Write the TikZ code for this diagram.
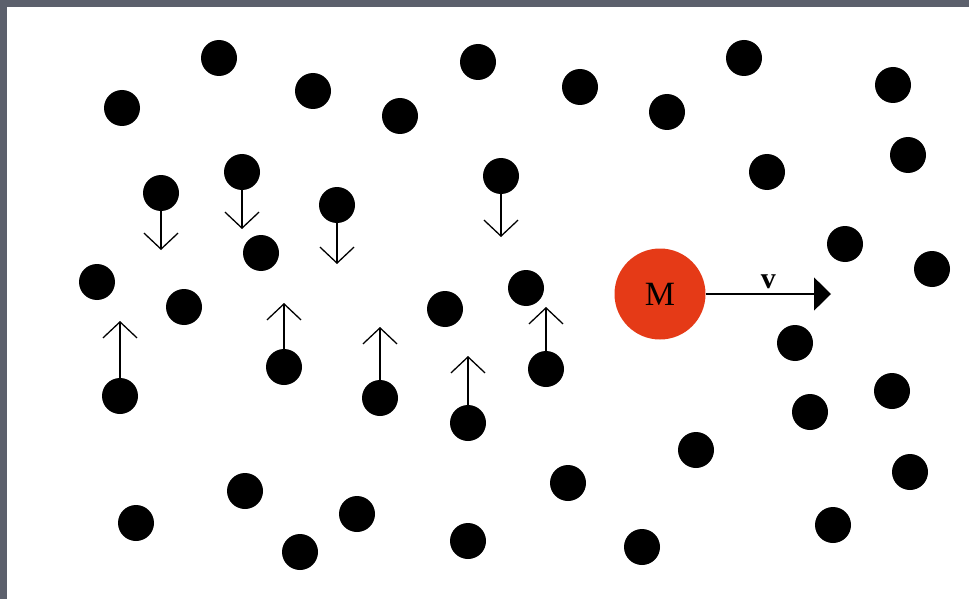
\documentclass[tikz,border=0pt]{standalone}
\usepackage{fontspec}
\setmainfont{Liberation Serif}
\usetikzlibrary{arrows.meta}
\definecolor{frame}{HTML}{5C606C}
\definecolor{mred}{HTML}{E53A17}
\begin{document}
\begin{tikzpicture}[x=1pt,y=-1pt,
  dot/.style={circle,fill=black,minimum size=36pt,inner sep=0pt},
  vel/.style={line width=1.7pt,-{Straight Barb[length=16pt,width=34pt,line width=1.3pt]}},
  mass/.style={circle,fill=mred,minimum size=91pt,inner sep=0pt,font=\fontsize{34}{34}\selectfont},
  drift/.style={line width=1.5pt,-{Triangle[length=17pt,width=33pt]}}]
\useasboundingbox (0,0) rectangle (969,599);
\fill[frame] (0,0) rectangle (969,599);
\fill[white] (7,7) rectangle (969,599);
% plain dots
\foreach \x/\y [count=\i] in {219/58,122/108,313/91,400/116,478/62,580/87,667/112,744/58,893/85,
  908/155,767/172,261/253,97/282,184/307,845/244,932/269,526/288,445/309,
  795/343,892/391,810/412,696/450,910/472,568/483,
  245/491,136/523,357/514,300/552,468/541,642/547,833/525}
  \node[dot] (p\i) at (\x,\y) {};
% dots moving down
\foreach \x/\y/\t [count=\i] in {161/193/250,242/172/229,337/205/264,501/176/237}{
  \node[dot] (dn\i) at (\x,\y) {};
  \coordinate (dt\i) at (\x,\t);
  \draw[vel] (dn\i) -- (dt\i);
}
% dots moving up
\foreach \x/\y/\t [count=\i] in {120/396/321,284/367/303,380/398/327,468/423/356,546/369/307}{
  \node[dot] (up\i) at (\x,\y) {};
  \coordinate (ut\i) at (\x,\t);
  \draw[vel] (up\i) -- (ut\i);
}
% massive particle
\node[mass] (M) at (660,294) {M};
\coordinate (vt) at (831,294);
\draw[drift] (M.east) -- node[above=1pt,font=\fontsize{30}{30}\selectfont\bfseries] (vl) {v} (vt);
\end{tikzpicture}
\end{document}
